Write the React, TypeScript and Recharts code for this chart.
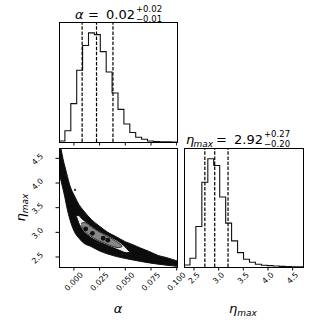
import React from "react";
import { ComposedChart, Line, Area, XAxis, YAxis, ReferenceLine } from "recharts";

const FONT = "'DejaVu Sans', sans-serif";
const TICK_FS = 7.8;

// alpha marginal histogram (20 bins)
const alphaEdges = [
  -0.0145, -0.00876, -0.00302, 0.00272, 0.00846, 0.0142, 0.01994, 0.02568, 0.03142, 0.03716, 0.0429,
  0.04864, 0.05438, 0.06012, 0.06586, 0.0716, 0.07734, 0.08308, 0.08882, 0.09456, 0.1003,
];
const alphaCounts = [3, 33, 113, 211, 284, 321, 316, 266, 206, 144, 96, 53, 28, 14, 8, 3, 1.5, 0.8, 0.3, 0.1];
const alphaQuantiles = [0.008, 0.022, 0.038];
const alphaTicks = [0, 0.025, 0.05, 0.075, 0.1];

// eta_max marginal histogram (20 bins)
const etaEdges = [
  2.297, 2.418, 2.538, 2.659, 2.78, 2.9, 3.021, 3.142, 3.262, 3.383, 3.504,
  3.624, 3.745, 3.866, 3.986, 4.107, 4.228, 4.348, 4.469, 4.589, 4.71,
];
const etaCounts = [6, 26, 121, 253, 323, 303, 209, 131, 78, 43, 23, 14, 8, 5, 4, 3, 2, 1, 0.5, 0.3];
const etaQuantiles = [2.72, 2.92, 3.19];
const etaTicks = [2.5, 3.0, 3.5, 4.0, 4.5];

// 2D panel: outer (dark) band of samples
const bandAlpha = [
  -0.0145, -0.0126, -0.0104, -0.0087, -0.0071, -0.0039, 0.001, 0.005, 0.009, 0.017, 0.0252,
  0.033, 0.0413, 0.05, 0.0574, 0.065, 0.0735, 0.082, 0.0897, 0.096, 0.1003,
];
const bandLow = [4.25, 4.05, 3.86, 3.7, 3.53, 3.26, 2.99, 2.88, 2.79, 2.71, 2.62, 2.56, 2.51, 2.47, 2.44, 2.41, 2.38, 2.355, 2.335, 2.32, 2.31];
const bandHigh = [4.85, 4.7, 4.47, 4.33, 4.2, 3.95, 3.72, 3.56, 3.45, 3.26, 3.12, 3.0, 2.91, 2.81, 2.75, 2.68, 2.61, 2.53, 2.49, 2.45, 2.42];

// outer contour (light fill)
const innerAlpha = [0.0025, 0.0045, 0.008, 0.013, 0.019, 0.026, 0.033, 0.04, 0.046, 0.051, 0.0545];
const innerLow = [3.32, 3.2, 3.06, 2.95, 2.86, 2.79, 2.73, 2.67, 2.62, 2.585, 2.59];
const innerHigh = [3.34, 3.34, 3.27, 3.19, 3.1, 3.01, 2.94, 2.86, 2.78, 2.68, 2.6];

// inner contour (gray fill)
const coreAlpha = [0.007, 0.01, 0.016, 0.023, 0.03, 0.037, 0.043, 0.047];
const coreLow = [3.14, 3.04, 2.93, 2.84, 2.78, 2.72, 2.69, 2.71];
const coreHigh = [3.18, 3.2, 3.12, 3.03, 2.95, 2.87, 2.79, 2.73];

// dense dark blobs inside the core, and stray samples
const blobAlpha = [0.0115, 0.018, 0.0285, 0.033];
const blobEta = [3.07, 2.98, 2.88, 2.84];
const strayAlpha = [0.0011, -0.0075];
const strayEta = [3.86, 4.15];

const ALPHA_MIN = -0.0145;
const ALPHA_MAX = 0.1003;
const ETA_MIN = 2.297;
const ETA_MAX = 4.71;

const stepRows = (edges: number[], counts: number[]) => [
  { x: edges[0], y: 0 },
  ...counts.map((c, i) => ({ x: edges[i], y: c })),
  { x: edges[edges.length - 1], y: counts[counts.length - 1] },
  { x: edges[edges.length - 1], y: 0 },
];
const rangeRows = (a: number[], lo: number[], hi: number[]) =>
  a.map((v, i) => ({ a: v, r: [lo[i], hi[i]] }));
const pointRows = (a: number[], e: number[]) => a.map((v, i) => ({ a: v, e: e[i] }));

const alphaStep = stepRows(alphaEdges, alphaCounts);
const etaStep = stepRows(etaEdges, etaCounts);
const band = rangeRows(bandAlpha, bandLow, bandHigh);
const inner = rangeRows(innerAlpha, innerLow, innerHigh);
const core = rangeRows(coreAlpha, coreLow, coreHigh);
const blobs = pointRows(blobAlpha, blobEta);
const strays = pointRows(strayAlpha, strayEta);

const P1 = { left: 59, top: 22, w: 118, h: 120 };
const P2 = { left: 59, top: 148, w: 118, h: 119 };
const P3 = { left: 184, top: 148, w: 119, h: 119 };

const textWidth = (s: string, fs: number) =>
  [...s].reduce((w, ch) => w + (ch === "." ? 0.318 : 0.636), 0) * fs;

const XTick = (props: any) => {
  const { x, y, payload, digits } = props;
  const label = Number(payload.value).toFixed(digits);
  const off = 1.2 + (textWidth(label, TICK_FS) + 6) * 0.354;
  return (
    <text
      transform={`translate(${x},${y + off}) rotate(-45)`}
      textAnchor="middle"
      dominantBaseline="central"
      fontSize={TICK_FS}
      fontFamily={FONT}
      fill="#000"
    >
      {label}
    </text>
  );
};

const YTick = (props: any) => {
  const { x, y, payload } = props;
  const label = Number(payload.value).toFixed(1);
  return (
    <text
      transform={`translate(${x - 17.8},${y + 1}) rotate(-45)`}
      textAnchor="middle"
      dominantBaseline="central"
      fontSize={TICK_FS}
      fontFamily={FONT}
      fill="#000"
    >
      {label}
    </text>
  );
};

const Frame = ({ p }: { p: { left: number; top: number; w: number; h: number } }) => (
  <div
    style={{
      position: "absolute",
      left: p.left,
      top: p.top,
      width: p.w + 1,
      height: p.h + 1,
      border: "1px solid #000",
      boxSizing: "border-box",
      pointerEvents: "none",
    }}
  />
);

const noMargin = { top: 0, right: 0, bottom: 0, left: 0 };

export default function App() {
  return (
    <div style={{ position: "absolute", left: 0, top: 0, width: 327, height: 327, background: "#fff" }}>
      {/* alpha marginal */}
      <div style={{ position: "absolute", left: P1.left, top: P1.top }}>
        <ComposedChart width={P1.w} height={P1.h + 6} margin={noMargin}>
          <XAxis
            dataKey="x"
            type="number"
            domain={[ALPHA_MIN, ALPHA_MAX]}
            ticks={alphaTicks}
            interval={0}
            height={6}
            tickSize={3.5}
            axisLine={false}
            tickLine={{ stroke: "#000" }}
            tick={() => <g />}
            allowDataOverflow
          />
          <YAxis hide type="number" domain={[0, 353]} />
          <Line
            data={alphaStep}
            dataKey="y"
            type="stepAfter"
            stroke="#111"
            strokeWidth={1.1}
            dot={false}
            activeDot={false}
            isAnimationActive={false}
          />
          {alphaQuantiles.map((q) => (
            <ReferenceLine key={q} x={q} stroke="#000" strokeWidth={1.2} strokeDasharray="3.5 1.6" />
          ))}
        </ComposedChart>
      </div>

      {/* 2D panel */}
      <div style={{ position: "absolute", left: P2.left - 45, top: P2.top }}>
        <ComposedChart width={45 + P2.w + 14} height={P2.h + 40} margin={{ top: 0, right: 14, bottom: 0, left: 0 }}>
          <XAxis
            dataKey="a"
            type="number"
            domain={[ALPHA_MIN, ALPHA_MAX]}
            ticks={alphaTicks}
            interval={0}
            height={40}
            tickSize={3.5}
            tickMargin={0}
            axisLine={false}
            tickLine={{ stroke: "#000" }}
            tick={<XTick digits={3} />}
            allowDataOverflow
          />
          <YAxis
            type="number"
            domain={[ETA_MIN, ETA_MAX]}
            ticks={etaTicks}
            interval={0}
            width={45}
            tickSize={3.5}
            tickMargin={0}
            axisLine={false}
            tickLine={{ stroke: "#000" }}
            tick={<YTick />}
            allowDataOverflow
          />
          <Area
            data={band}
            dataKey="r"
            type="monotone"
            stroke="#111"
            strokeWidth={1}
            fill="#0c0c0c"
            fillOpacity={1}
            isAnimationActive={false}
          />
          <Area
            data={inner}
            dataKey="r"
            type="monotone"
            stroke="#000"
            strokeWidth={1}
            fill="#ececec"
            fillOpacity={1}
            isAnimationActive={false}
          />
          <Area
            data={core}
            dataKey="r"
            type="monotone"
            stroke="#111"
            strokeWidth={0.8}
            fill="#878787"
            fillOpacity={1}
            isAnimationActive={false}
          />
          <Line
            data={blobs}
            dataKey="e"
            stroke="none"
            dot={{ r: 2.4, fill: "#111", stroke: "none" }}
            activeDot={false}
            isAnimationActive={false}
          />
          <Line
            data={strays}
            dataKey="e"
            stroke="none"
            dot={{ r: 1.1, fill: "#222", stroke: "none" }}
            activeDot={false}
            isAnimationActive={false}
          />
        </ComposedChart>
      </div>

      {/* eta_max marginal */}
      <div style={{ position: "absolute", left: P3.left, top: P3.top }}>
        <ComposedChart width={P3.w + 10} height={P3.h + 40} margin={{ top: 0, right: 10, bottom: 0, left: 0 }}>
          <XAxis
            dataKey="x"
            type="number"
            domain={[ETA_MIN, ETA_MAX]}
            ticks={etaTicks}
            interval={0}
            height={40}
            tickSize={3.5}
            tickMargin={0}
            axisLine={false}
            tickLine={{ stroke: "#000" }}
            tick={<XTick digits={1} />}
            allowDataOverflow
          />
          <YAxis hide type="number" domain={[0, 355]} />
          <Line
            data={etaStep}
            dataKey="y"
            type="stepAfter"
            stroke="#111"
            strokeWidth={1.1}
            dot={false}
            activeDot={false}
            isAnimationActive={false}
          />
          {etaQuantiles.map((q) => (
            <ReferenceLine key={q} x={q} stroke="#000" strokeWidth={1.2} strokeDasharray="3.5 1.6" />
          ))}
        </ComposedChart>
      </div>

      <Frame p={P1} />
      <Frame p={P2} />
      <Frame p={P3} />

      {/* titles and axis labels */}
      <svg
        width={327}
        height={327}
        style={{ position: "absolute", left: 0, top: 0, pointerEvents: "none" }}
        fontFamily={FONT}
        fill="#000"
      >
        <text x={75} y={19} fontSize={13} fontStyle="italic">α</text>
        <text x={88} y={19} fontSize={13}>=</text>
        <text x={135} y={19} fontSize={13} textAnchor="end">0.02</text>
        <text x={136} y={11.5} fontSize={8.5}>+0.02</text>
        <text x={136} y={22} fontSize={8.5}>−0.01</text>

        <text x={186} y={144} fontSize={13} fontStyle="italic">η</text>
        <text x={193.5} y={146.5} fontSize={9} fontStyle="italic">max</text>
        <text x={216} y={144} fontSize={13}>=</text>
        <text x={263} y={144} fontSize={13} textAnchor="end">2.92</text>
        <text x={264} y={136.5} fontSize={8.5}>+0.27</text>
        <text x={264} y={147} fontSize={8.5}>−0.20</text>

        <text x={118} y={313} fontSize={13} fontStyle="italic" textAnchor="middle">α</text>
        <text x={243} y={313} fontSize={13} fontStyle="italic" textAnchor="middle">
          <tspan>η</tspan>
          <tspan fontSize={9} dy={3}>max</tspan>
        </text>
        <text transform="translate(24.5,207.5) rotate(-90)" fontSize={13} fontStyle="italic" textAnchor="middle">
          <tspan>η</tspan>
          <tspan fontSize={9} dy={3}>max</tspan>
        </text>
      </svg>
    </div>
  );
}
